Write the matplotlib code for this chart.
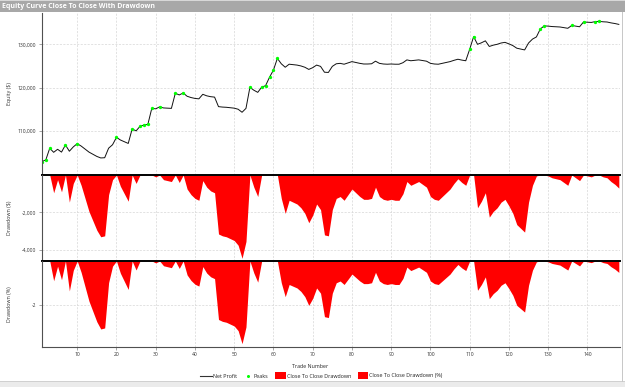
import matplotlib
matplotlib.use('Agg')
import matplotlib.pyplot as plt
import numpy as np
from matplotlib.patches import Rectangle
from matplotlib.lines import Line2D
from matplotlib.ticker import FuncFormatter

plt.rcParams['font.family'] = ['Open Sans', 'DejaVu Sans']

# ---- data ----
trade_numbers = list(range(1, 149))
net_profit = [
    102900, 103300, 106000, 105050, 105750, 105100, 106750, 105300, 106300, 107050,
    106500, 105800, 105100, 104600, 104100, 103750, 103800, 106000, 106800, 108500,
    107900, 107500, 107100, 110450, 110000, 111050, 111350, 111500, 115200, 115100,
    115550, 115300, 115250, 115200, 118700, 118300, 118750, 118000, 117700, 117500,
    117400, 118450, 118100, 117900, 117800, 115600, 115500, 115450, 115350, 115250,
    115000, 114300, 115200, 120050, 119400, 118900, 120100, 120450, 122400, 124050,
    126750, 125500, 124700, 125400, 125300, 125200, 125000, 124700, 124200, 124600,
    125200, 124900, 123550, 123500, 124900, 125500, 125600, 125400, 125700, 126000,
    125800, 125600, 125450, 125450, 125500, 126100, 125600, 125450, 125400, 125450,
    125400, 125400, 125750, 126400, 126200, 126300, 126400, 126250, 126100, 125600,
    125450, 125400, 125600, 125800, 126000, 126300, 126550, 126350, 126200, 128850,
    131750, 130000, 130350, 130800, 129500, 129800, 130000, 130300, 130450, 130100,
    129700, 129100, 128900, 128700, 130300, 131200, 131700, 133550, 134250, 134200,
    134100, 134050, 134000, 133850, 133700, 134350, 134200, 134050, 135150, 135100,
    135050, 135250, 135300, 135200, 135150, 134950, 134800, 134600,
]
x_ticks = [10, 20, 30, 40, 50, 60, 70, 80, 90, 100, 110, 120, 130, 140]
equity_ticks = [110000, 120000, 130000]
dd_ticks = [-4000, -2000]
ddpct_ticks = [-2]
title = "Equity Curve Close To Close With Drawdown"
legend_labels = ["Net Profit", "Peaks", "Close To Close Drawdown", "Close To Close Drawdown (%)"]

# ---- derived series ----
t = np.array(trade_numbers, float)
eq = np.array(net_profit, float)
runmax = np.maximum.accumulate(eq)
dd = eq - runmax
ddpct = dd / runmax * 100
peak_mask = np.r_[True, eq[1:] > runmax[:-1]]

W, H = 625, 387
fig = plt.figure(figsize=(W / 100, H / 100), dpi=100)
fig.patch.set_facecolor('white')


def rect(x0, y0, x1, y1):
    return [x0 / W, 1 - y1 / H, (x1 - x0) / W, (y1 - y0) / H]


L, R = 41.5, 620
ax1 = fig.add_axes(rect(L, 13, R, 175))
ax2 = fig.add_axes(rect(L, 175, R, 261))
ax3 = fig.add_axes(rect(L, 261, R, 347))

grid_kw = dict(color='#d6d6d6', linestyle=(0, (3, 2)), linewidth=0.5)
tick_fs = 3.6
for ax in (ax1, ax2, ax3):
    ax.set_facecolor('none')
    for s in ('top', 'right', 'bottom'):
        ax.spines[s].set_visible(False)
    ax.spines['left'].set_color('#505050')
    ax.spines['left'].set_linewidth(0.8)
    ax.set_xlim(0.9, 148.3)
    ax.set_xticks(x_ticks)
    ax.grid(True, **grid_kw)
    ax.set_axisbelow(True)
    ax.tick_params(axis='y', length=2.2, width=0.5, color='#808080', pad=1.5,
                   labelsize=tick_fs, labelcolor='#333333')
    ax.tick_params(axis='x', length=0, labelbottom=False)

ax3.spines['bottom'].set_visible(True)
ax3.spines['bottom'].set_color('#505050')
ax3.spines['bottom'].set_linewidth(0.8)
ax3.tick_params(axis='x', length=2.2, width=0.5, color='#808080', pad=1.5,
                labelbottom=True, labelsize=tick_fs, labelcolor='#333333')

# equity panel
ax1.plot(t, eq, color='#111111', linewidth=0.7)
ax1.plot(t[peak_mask], eq[peak_mask], linestyle='none', marker='o', markersize=2.4,
         markerfacecolor='#00ff00', markeredgewidth=0)
ax1.set_ylim(99810, 137230)
ax1.set_yticks(equity_ticks)
ax1.yaxis.set_major_formatter(FuncFormatter(lambda v, p: f'{v:,.0f}'))

# drawdown $ panel
ax2.fill_between(t, dd, 0, color='#ff0000', linewidth=0)
ax2.axhline(0, color='black', linewidth=1.4, clip_on=False)
ax2.set_ylim(-4594, 0)
ax2.set_yticks(dd_ticks)
ax2.yaxis.set_major_formatter(FuncFormatter(lambda v, p: f'{v:,.0f}'))

# drawdown % panel
ax3.fill_between(t, ddpct, 0, color='#ff0000', linewidth=0)
ax3.axhline(0, color='black', linewidth=1.4, clip_on=False)
ax3.set_ylim(-3.9, 0)
ax3.set_yticks(ddpct_ticks)
ax3.yaxis.set_major_formatter(FuncFormatter(lambda v, p: f'{v:.0f}'))

# y labels
lab_kw = dict(rotation=90, ha='center', va='center', fontsize=3.8, color='#333333')
fig.text(10 / W, 1 - 94 / H, 'Equity ($)', **lab_kw)
fig.text(10 / W, 1 - 218 / H, 'Drawdown ($)', **lab_kw)
fig.text(10 / W, 1 - 304 / H, 'Drawdown (%)', **lab_kw)
fig.text(310 / W, 1 - 366 / H, 'Trade Number', ha='center', va='center',
         fontsize=3.8, color='#222222')

# title bar
fig.patches.append(Rectangle((0, 1 - 12 / H), 1, 12 / H, transform=fig.transFigure,
                             facecolor='#a8a8a8', edgecolor='none', zorder=0))
fig.patches.append(Rectangle((0, 1 - 1 / H), 1, 1 / H, transform=fig.transFigure,
                             facecolor='#d8d8d8', edgecolor='none', zorder=0))
fig.text(2 / W, 1 - 6.5 / H, title, ha='left', va='center', fontsize=5,
         fontweight='bold', color='white')

# bottom strip
fig.patches.append(Rectangle((0, 0), 1, 5 / H, transform=fig.transFigure,
                             facecolor='#ebebeb', edgecolor='none', zorder=0))
fig.patches.append(Rectangle((0, 5 / H), 1, 1 / H, transform=fig.transFigure,
                             facecolor='#d0d0d0', edgecolor='none', zorder=0))
fig.patches.append(Rectangle(((R + 2) / W, 5 / H), 1.2 / W, 1 - 17 / H,
                             transform=fig.transFigure, facecolor='#c8c8c8',
                             edgecolor='none', zorder=0))

# legend (manual)
ly = 1 - 376 / H
leg_fs = 3.9
fig.add_artist(Line2D([200 / W, 212 / W], [ly, ly], color='#333333', linewidth=0.8,
                      transform=fig.transFigure))
fig.text(212.5 / W, ly, legend_labels[0], ha='left', va='center', fontsize=leg_fs, color='#222222')
fig.add_artist(Line2D([247.7 / W], [ly], marker='o', markersize=2.2, markerfacecolor='#00ff00',
                      markeredgewidth=0, linestyle='none', transform=fig.transFigure))
fig.text(254 / W, ly, legend_labels[1], ha='left', va='center', fontsize=leg_fs, color='#222222')
fig.patches.append(Rectangle((275.3 / W, 1 - 379 / H), 10.7 / W, 7 / H, transform=fig.transFigure,
                             facecolor='#ff0000', edgecolor='none'))
fig.text(287 / W, ly, legend_labels[2], ha='left', va='center', fontsize=leg_fs, color='#222222')
fig.patches.append(Rectangle((358.3 / W, 1 - 379 / H), 10 / W, 7 / H, transform=fig.transFigure,
                             facecolor='#ff0000', edgecolor='none'))
fig.text(369 / W, ly, legend_labels[3], ha='left', va='center', fontsize=leg_fs, color='#222222')

fig.savefig('out.png', dpi=100)
